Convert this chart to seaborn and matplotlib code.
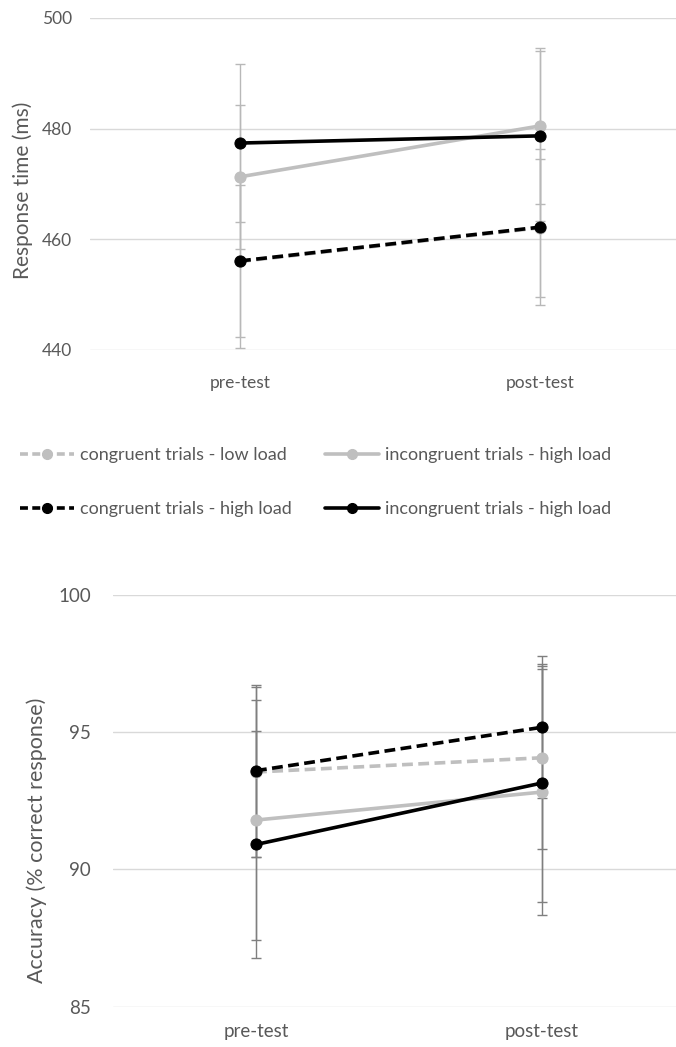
import numpy as np
import pandas as pd
import matplotlib
matplotlib.use("Agg")
import matplotlib.pyplot as plt
import seaborn as sns
from matplotlib.lines import Line2D

# Values.
phases = ["pre-test", "post-test"]
series_names = [
    "congruent trials - low load",
    "incongruent trials - high load",
    "congruent trials - high load",
    "incongruent trials - high load ",
]
series_colors = ["#bfbfbf", "#bfbfbf", "#000000", "#000000"]
series_dashed = [True, False, True, False]

rt_mean = [[456.0, 462.1], [471.3, 480.5], [456.1, 462.2], [477.4, 478.7]]
rt_err = [[15.6, 12.5], [13.0, 14.1], [13.7, 14.1], [14.2, 15.4]]
rt_ticks = [440, 460, 480, 500]

acc_mean = [[93.55, 94.07], [91.8, 92.82], [93.6, 95.18], [90.91, 93.15]]
acc_err = [[3.1, 3.34], [4.38, 4.48], [3.13, 2.59], [4.15, 4.32]]
acc_ticks = [85, 90, 95, 100]

sns.set_style("white")
plt.rcParams["font.family"] = ["Lato", "DejaVu Sans"]
TEXT = "#595959"


def long_table(means, errs):
    rows = []
    for name, m, e in zip(series_names, means, errs):
        for i, phase in enumerate(phases):
            rows.append({"series": name, "pos": i, "phase": phase, "mean": m[i], "err": e[i]})
    return pd.DataFrame(rows)


def draw_panel(ax, df, ticks, errcolor, xlim, ylabel, fs, lfs, xpad, ypad):
    for k, name in enumerate(series_names):
        d = df[df["series"] == name]
        ax.errorbar(d["pos"], d["mean"], yerr=d["err"], fmt="none", ecolor=errcolor,
                    elinewidth=1.0, capsize=3.5, capthick=1.0, zorder=1 + k * 0.1)
    for k, name in enumerate(series_names):
        d = df[df["series"] == name]
        c = series_colors[k]
        sns.lineplot(data=d, x="pos", y="mean", color=c, marker="o", markersize=8,
                     markeredgecolor=c, linewidth=2.6, ax=ax, zorder=3 + k)
        line = ax.lines[-1]
        if series_dashed[k]:
            line.set_dashes((3, 1.5))
    ax.set_xlim(*xlim)
    ax.set_ylim(ticks[0], ticks[-1])
    ax.set_yticks(ticks)
    ax.set_xticks([0, 1])
    ax.set_xticklabels(phases)
    ax.grid(axis="y", color="#d9d9d9", linewidth=1.0)
    ax.set_axisbelow(True)
    sns.despine(ax=ax, left=True, bottom=True, right=True, top=True)
    ax.tick_params(axis="both", length=0, colors=TEXT, labelsize=fs)
    ax.tick_params(axis="x", pad=xpad)
    ax.tick_params(axis="y", pad=ypad)
    ax.set_xlabel("")
    ax.set_ylabel(ylabel, color=TEXT, fontsize=lfs)


fig = plt.figure(figsize=(6.76, 10.47), dpi=100)

ax1 = fig.add_axes([90 / 676, 1 - 350 / 1047, 586 / 676, 332 / 1047])
draw_panel(ax1, long_table(rt_mean, rt_err), rt_ticks, "#b8b8b8",
           (-0.5, 1.453), "Response time (ms)", 12.5, 15, 18, 13)
ax1.yaxis.set_label_coords(-0.097, 0.482)

ax2 = fig.add_axes([113 / 676, 1 - 1006.7 / 1047, 563 / 676, 411.7 / 1047])
draw_panel(ax2, long_table(acc_mean, acc_err), acc_ticks, "#7f7f7f",
           (-0.5, 1.469), "Accuracy (% correct response)", 13.5, 15.5, 11.5, 16)
ax2.yaxis.set_label_coords(-0.117, 0.403)

# Legend between the two panels, two columns.
handles = []
for k, name in enumerate(series_names):
    h = Line2D([], [], color=series_colors[k], marker="o", markersize=7,
               markeredgecolor=series_colors[k], linewidth=2.6,
               linestyle="--" if series_dashed[k] else "-")
    if series_dashed[k]:
        h.set_dashes((2.2, 1.2))
    handles.append(h)

for col, xpos in enumerate([20 / 676, 325 / 676]):
    idx = [col, col + 2]
    leg = fig.legend([handles[i] for i in idx], [series_names[i].strip() for i in idx],
                     loc="upper left", bbox_to_anchor=(xpos, 1 - 447 / 1047),
                     frameon=False, fontsize=13, handlelength=3.0, handletextpad=0.3,
                     labelspacing=2.1, borderpad=0, borderaxespad=0)
    for t in leg.get_texts():
        t.set_color(TEXT)

fig.savefig("out.png", dpi=100)
